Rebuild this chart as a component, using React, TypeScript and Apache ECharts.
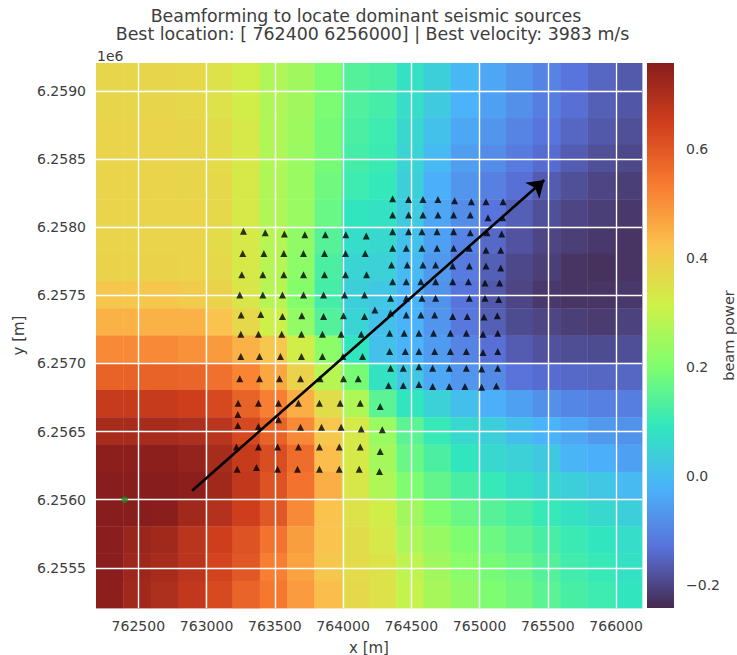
import React, { useEffect, useRef } from "react";
import * as echarts from "echarts";

const FONT = "'DejaVu Sans', sans-serif";
const TEXT = "#3d3d3d";

const xTicks = [762500, 763000, 763500, 764000, 764500, 765000, 765500, 766000];
const yTicks = [6255500, 6256000, 6256500, 6257000, 6257500, 6258000, 6258500, 6259000];
const barTicks = [-0.2, 0, 0.2, 0.4, 0.6];
const xMin = 762190;
const xMax = 766190;
const yMin = 6255205;
const yMax = 6259205;
const cellSize = 200;
const vMin = -0.242;
const vMax = 0.758;

const beam = [
  [.375,.375,.375,.37,.35,.32,.27,.25,.2,.14,.13,.08,.04,-.01,-.04,-.07,-.1,-.125,-.15,-.168],
  [.375,.375,.375,.37,.35,.32,.27,.25,.195,.135,.12,.07,.03,-.02,-.05,-.08,-.11,-.135,-.16,-.173],
  [.38,.38,.38,.375,.36,.33,.27,.245,.19,.13,.11,.06,.01,-.04,-.07,-.1,-.125,-.15,-.17,-.183],
  [.38,.38,.38,.375,.365,.33,.27,.24,.19,.12,.105,.05,-.005,-.055,-.085,-.115,-.14,-.165,-.183,-.195],
  [.38,.38,.38,.375,.37,.33,.27,.24,.18,.11,.095,.04,-.025,-.07,-.105,-.135,-.165,-.183,-.2,-.21],
  [.38,.38,.38,.38,.37,.33,.27,.24,.17,.09,.08,.03,-.04,-.085,-.125,-.16,-.183,-.2,-.21,-.22],
  [.38,.38,.38,.38,.365,.33,.28,.225,.145,.07,.06,.01,-.05,-.1,-.145,-.178,-.2,-.21,-.22,-.225],
  [.385,.385,.385,.38,.37,.33,.28,.22,.13,.05,.045,-.005,-.065,-.115,-.16,-.195,-.21,-.225,-.23,-.225],
  [.41,.41,.41,.4,.385,.34,.28,.21,.12,.04,.02,-.02,-.075,-.125,-.17,-.2,-.22,-.225,-.225,-.22],
  [.45,.45,.45,.45,.42,.37,.31,.23,.14,.05,.01,-.02,-.07,-.12,-.16,-.19,-.2,-.21,-.215,-.205],
  [.51,.51,.51,.5,.485,.45,.41,.32,.22,.09,.01,-.02,-.06,-.1,-.135,-.165,-.18,-.188,-.19,-.185],
  [.58,.58,.58,.575,.555,.52,.465,.385,.28,.19,.08,.02,-.04,-.07,-.09,-.13,-.14,-.145,-.15,-.15],
  [.66,.66,.66,.65,.63,.58,.53,.455,.36,.27,.15,.09,.045,.005,-.025,-.05,-.08,-.095,-.105,-.11],
  [.71,.71,.71,.7,.68,.63,.58,.51,.41,.33,.24,.15,.1,.06,.04,.005,-.02,-.04,-.065,-.075],
  [.75,.75,.75,.74,.71,.66,.62,.56,.43,.33,.255,.17,.13,.09,.06,.045,.025,-.015,-.025,-.05],
  [.758,.758,.758,.75,.72,.67,.61,.55,.455,.34,.27,.2,.16,.125,.1,.075,.055,.04,.02,-.005],
  [.758,.758,.755,.72,.69,.65,.6,.51,.42,.35,.32,.25,.2,.17,.145,.125,.1,.08,.06,.04],
  [.755,.73,.72,.68,.65,.61,.55,.48,.42,.36,.335,.265,.235,.2,.175,.15,.125,.105,.09,.07],
  [.755,.725,.71,.68,.64,.6,.53,.47,.41,.365,.345,.29,.25,.215,.19,.17,.14,.115,.1,.08],
  [.75,.72,.7,.67,.627,.578,.54,.484,.43,.37,.35,.3,.26,.225,.2,.18,.15,.125,.11,.09],
];

const stationX = [
  763270,763430,763570,763720,763870,764020,764170,
  763265,763420,763566,763710,763864,764018,764162,
  763258,763412,763566,763710,763864,764018,764172,
  763243,763412,763556,763710,763857,764011,764157,
  763253,763397,763556,763698,763857,764003,764157,
  763251,763380,763551,763695,763849,763986,764133,
  763251,763388,763541,763695,763849,763999,764143,
  763243,763388,763534,763688,763832,764003,764111,
  763231,763380,763527,763673,763827,763979,764126,764272,
  763229,
  763229,763380,763527,763688,763842,763986,764133,764287,
  763219,763380,763520,763673,763827,763972,764126,764272,
  763224,763366,763520,763666,763827,763972,764118,764267,
  764363,764480,764585,764695,764817,764940,765047,765172,
  764363,764480,764585,764695,764810,764932,765062,765169,
  764363,764480,764578,764688,764810,764932,765054,765162,
  764363,764463,764578,764688,764810,764925,765047,765155,
  764355,764470,764585,764678,764803,764925,765047,765155,
  764363,764463,764570,764678,764803,764918,765040,765147,
  764348,764463,764578,764678,764925,765040,765140,
  764233,
  764348,764463,764570,764671,764803,764910,765032,765130,
  764341,764448,764556,764663,764786,764903,765025,765133,
  764341,764456,764556,764671,764786,764903,765025,765133,
  764348,764441,764556,764656,764778,764903,765015,765133,
  764333,764441,764556,764656,764778,764893,765015,765123,
];
const stationY = [
  6257970,6257960,6257950,6257945,6257945,6257945,6257935,
  6257806,6257806,6257806,6257806,6257806,6257806,6257806,
  6257650,6257650,6257650,6257650,6257650,6257650,6257650,
  6257503,6257503,6257503,6257503,6257503,6257503,6257503,
  6257355,6257360,6257345,6257350,6257345,6257350,6257345,
  6257214,6257214,6257214,6257214,6257214,6257214,6257214,
  6257050,6257050,6257050,6257050,6257050,6257050,6257050,
  6256887,6256887,6256887,6256887,6256887,6256887,6256887,
  6256708,6256708,6256708,6256708,6256708,6256708,6256708,6256684,
  6256625,
  6256545,6256537,6256586,6256532,6256532,6256532,6256518,6256513,
  6256386,6256386,6256386,6256386,6256386,6256386,6256386,6256354,
  6256224,6256236,6256224,6256224,6256224,6256224,6256224,6256207,
  6258209,6258204,6258204,6258204,6258194,6258187,6258187,6258187,
  6258089,6258089,6258089,6258089,6258089,6258089,6258070,6258070,
  6257967,6257967,6257967,6257967,6257967,6257960,6257960,6257950,
  6257845,6257845,6257845,6257845,6257845,6257845,6257830,6257830,
  6257723,6257723,6257723,6257723,6257715,6257715,6257715,6257700,
  6257600,6257600,6257600,6257600,6257600,6257600,6257590,6257590,
  6257478,6257478,6257478,6257478,6257478,6257478,6257470,
  6257393,
  6257370,6257356,6257356,6257356,6257345,6257345,6257340,6257350,
  6257222,6257222,6257222,6257222,6257222,6257222,6257215,6257222,
  6257087,6257087,6257087,6257087,6257087,6257087,6257080,6257087,
  6256965,6256965,6256975,6256965,6256965,6256965,6256960,6256965,
  6256838,6256838,6256845,6256830,6256830,6256830,6256825,6256835,
];
const bestLocation = [762400, 6256000];
const arrowStart = [762894, 6256066];
const arrowEnd = [765474, 6258346];

const turboStops = ["#30123b","#4662d7","#36aaf9","#1ae4b6","#72fe5e","#c8ef34","#faba39","#f66b19","#cb2a04","#7a0403"];
const fade = (hex: string) => {
  const n = parseInt(hex.slice(1), 16);
  const c = [n >> 16, (n >> 8) & 255, n & 255].map((v) => Math.round(v * 0.9 + 255 * 0.1));
  return `rgb(${c[0]},${c[1]},${c[2]})`;
};
const turbo = turboStops.map(fade);

const cells = beam.flatMap((row, r) =>
  row.map((v, c) => [xMin + c * cellSize, yMax - (r + 1) * cellSize, v])
);

export default function App() {
  const ref = useRef<HTMLDivElement>(null);
  useEffect(() => {
    const chart = echarts.init(ref.current!, undefined, { renderer: "svg" });
    const axisBase = {
      axisLine: { show: false },
      axisTick: { show: false },
      nameTextStyle: { color: TEXT, fontFamily: FONT, fontSize: 15 },
    };
    const titleStyle = { color: TEXT, fontFamily: FONT, fontSize: 17.4, fontWeight: "normal" };
    chart.setOption({
      animation: false,
      backgroundColor: "#fff",
      textStyle: { fontFamily: FONT },
      title: [
        { text: "Beamforming to locate dominant seismic sources", left: 366, top: 7, padding: 0, textAlign: "center", textStyle: titleStyle },
        { text: "Best location: [ 762400 6256000] | Best velocity: 3983 m/s", left: 372.5, top: 25, padding: 0, textAlign: "center", textStyle: titleStyle },
      ],
      grid: [
        { left: 96, right: 95, top: 63, bottom: 47, outerBoundsMode: "none" },
        { left: 647, right: 63, top: 63, bottom: 47, outerBoundsMode: "none" },
      ],
      xAxis: [
        { ...axisBase, type: "value", gridIndex: 0, min: xMin, max: xMax, z: 2,
          name: "x [m]", nameLocation: "middle", nameGap: 32,
          axisTick: { show: false, customValues: xTicks },
          axisLabel: { customValues: xTicks, color: TEXT, fontFamily: FONT, fontSize: 14, margin: 11, formatter: (v: number) => String(v) },
          splitLine: { show: true, lineStyle: { color: "#fff", width: 1.4 } } },
        { type: "value", gridIndex: 1, min: 0, max: 1, show: false },
      ],
      yAxis: [
        { ...axisBase, type: "value", gridIndex: 0, min: yMin, max: yMax, z: 2,
          name: "y [m]", nameLocation: "middle", nameGap: 66,
          axisTick: { show: false, customValues: yTicks },
          axisLabel: { customValues: yTicks, color: TEXT, fontFamily: FONT, fontSize: 14, margin: 10, formatter: (v: number) => (v / 1e6).toFixed(4) },
          splitLine: { show: true, lineStyle: { color: "#fff", width: 1.4 } } },
        { ...axisBase, type: "value", gridIndex: 1, min: vMin, max: vMax, position: "right",
          name: "beam power", nameLocation: "middle", nameGap: 47, nameRotate: 90, nameMoveOverlap: false,
          nameTextStyle: { color: TEXT, fontFamily: FONT, fontSize: 14.5 },
          axisTick: { show: false, customValues: barTicks },
          axisLabel: { customValues: barTicks, color: TEXT, fontFamily: FONT, fontSize: 14, margin: 12,
            formatter: (v: number) => (v < 0 ? "\u2212" : "") + Math.abs(v).toFixed(1) },
          splitLine: { show: false } },
      ],
      visualMap: { show: false, seriesIndex: 0, dimension: 2, min: vMin, max: vMax, inRange: { color: turbo } },
      graphic: [
        { id: "offset", type: "text", x: 97, y: 49, style: { text: "1e6", fill: TEXT, font: `14px ${FONT}` } },
      ],
      series: [
        {
          type: "custom", name: "beam", xAxisIndex: 0, yAxisIndex: 0, z: 1, coordinateSystem: "cartesian2d",
          encode: { x: 0, y: 1 }, data: cells, silent: true,
          renderItem: (_p: any, api: any) => {
            const a = api.coord([api.value(0), api.value(1) + cellSize]);
            const b = api.coord([api.value(0) + cellSize, api.value(1)]);
            return { type: "rect", shape: { x: a[0], y: a[1], width: b[0] - a[0] + 0.4, height: b[1] - a[1] + 0.4 },
              style: { fill: api.visual("color") } };
          },
        },
        {
          type: "custom", name: "colorbar", xAxisIndex: 1, yAxisIndex: 1, z: 1, coordinateSystem: "cartesian2d",
          encode: { x: 0, y: 1 }, data: [[0, vMin]], silent: true,
          renderItem: (_p: any, api: any) => {
            const a = api.coord([0, vMax]);
            const b = api.coord([1, vMin]);
            return { type: "rect", shape: { x: a[0], y: a[1], width: b[0] - a[0], height: b[1] - a[1] },
              style: { fill: new echarts.graphic.LinearGradient(0, 1, 0, 0,
                turbo.map((color, i) => ({ offset: i / (turbo.length - 1), color }))) } };
          },
        },
        {
          type: "scatter", name: "stations", xAxisIndex: 0, yAxisIndex: 0, z: 3, symbol: "triangle", symbolSize: 7,
          itemStyle: { color: "#000", opacity: 0.8 }, silent: true,
          data: stationX.map((x, i) => [x, stationY[i]]),
        },
        {
          type: "scatter", name: "best", xAxisIndex: 0, yAxisIndex: 0, z: 3, symbol: "circle", symbolSize: 6.5,
          itemStyle: { color: "#228b22" }, silent: true, data: [bestLocation],
        },
        {
          type: "lines", name: "direction", coordinateSystem: "cartesian2d", xAxisIndex: 0, yAxisIndex: 0, z: 4,
          symbol: ["none", "arrow"], symbolSize: [1, 16], silent: true,
          lineStyle: { color: "#000", width: 2.6, opacity: 1, curveness: 0 },
          data: [{ coords: [arrowStart, arrowEnd] }],
        },
      ],
    });
    return () => chart.dispose();
  }, []);
  return <div ref={ref} style={{ position: "fixed", left: 0, top: 0, width: 737, height: 655 }} />;
}
